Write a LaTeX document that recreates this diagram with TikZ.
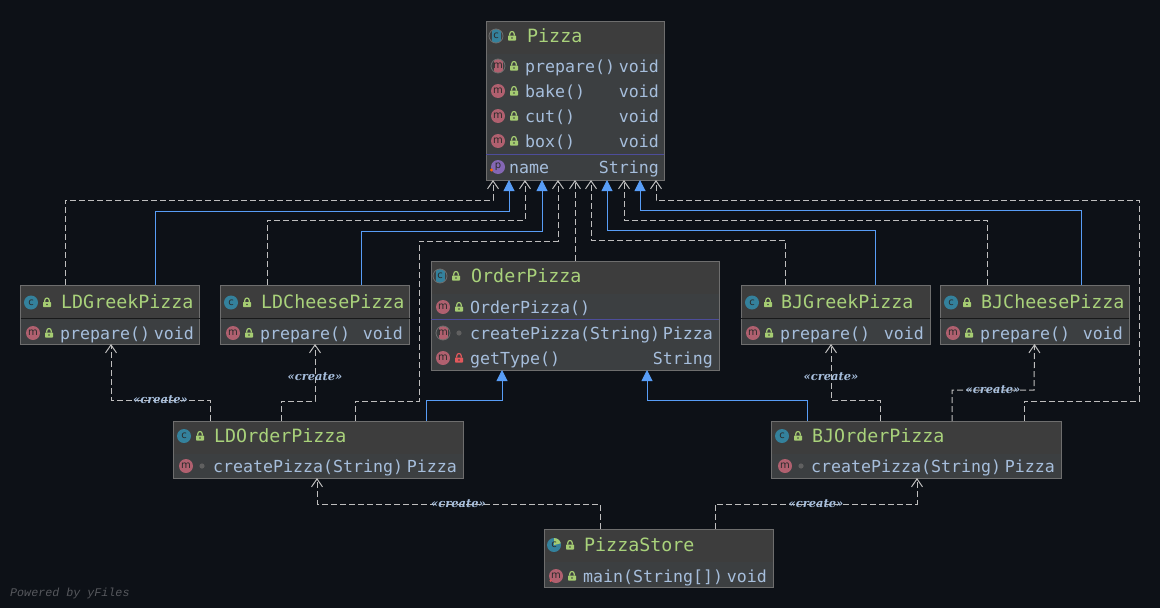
\documentclass[tikz,border=0pt]{standalone}
\usepackage{fontspec}
\usetikzlibrary{arrows.meta}
\newfontfamily\monofont{DejaVu Sans Mono}
\newfontfamily\iconfont{DejaVu Sans}
\newfontfamily\stereofont{DejaVu Serif}
\newfontfamily\footfont{Liberation Mono}

\definecolor{bgC}{HTML}{0D1117}
\definecolor{headC}{HTML}{3D3D3D}
\definecolor{bodyC}{HTML}{3C3F41}
\definecolor{edgeC}{HTML}{6E6E6E}
\definecolor{titleC}{HTML}{A9D27B}
\definecolor{memberC}{HTML}{A6BEDC}
\definecolor{dashC}{HTML}{BEBEBE}
\definecolor{blueC}{HTML}{589DF6}
\definecolor{classC}{HTML}{34819C}
\definecolor{methodC}{HTML}{B0606F}
\definecolor{propC}{HTML}{8467B4}
\definecolor{lockG}{HTML}{A5CC72}
\definecolor{lockR}{HTML}{E2585C}
\definecolor{glyphC}{HTML}{2B2B2B}

\tikzset{
    classbox/.style={draw=edgeC, fill=bodyC, line width=1pt, inner sep=0pt, outer sep=0pt,
        path picture={\fill[headC] (path picture bounding box.north west) rectangle
            ([yshift=-#1]path picture bounding box.north east);}},
    titletext/.style={text=titleC, anchor=base west, inner sep=0pt,
        font=\monofont\fontsize{18.3}{22}\selectfont},
    membertext/.style={text=memberC, anchor=base west, inner sep=0pt,
        font=\monofont\fontsize{16.6}{20}\selectfont},
    typetext/.style={membertext, anchor=base east},
    iconbase/.style={circle, minimum size=14pt, inner sep=0pt, text=glyphC,
        font=\iconfont\fontsize{10}{10}\selectfont},
    classicon/.style={iconbase, fill=classC},
    methodicon/.style={iconbase, fill=methodC},
    propicon/.style={iconbase, fill=propC},
    absclass/.style={iconbase, draw=edgeC, fill=bodyC, line width=0.8pt, path picture={
        \fill[classC] ([xshift=-4.5pt,yshift=8pt]path picture bounding box.center) rectangle ([xshift=4.5pt,yshift=-8pt]path picture bounding box.center);}},
    absmethod/.style={iconbase, draw=edgeC, fill=bodyC, line width=0.8pt, path picture={
        \fill[methodC] ([xshift=-4.5pt,yshift=8pt]path picture bounding box.center) rectangle ([xshift=4.5pt,yshift=-8pt]path picture bounding box.center);}},
    runclass/.style={iconbase, fill=classC, path picture={
        \fill[lockG] (path picture bounding box.center) -- ++(0pt,8pt) -- ++(8pt,0pt) -- ++(0pt,-6pt) -- cycle;}},
    depend/.style={draw=dashC, line width=1pt, dash pattern=on 6pt off 3pt,
        -{Straight Barb[length=8pt,width=11pt]}},
    inherit/.style={draw=blueC, line width=1pt, -{Triangle[length=11pt,width=11pt]}},
    createlabel/.style={text=memberC, inner sep=0pt,
        font=\stereofont\bfseries\itshape\fontsize{11.5}{14}\selectfont},
    publock/.pic={
        \fill[lockG, rounded corners=0.6pt] (-4,-0.5) rectangle (4,4.5);
        \draw[lockG, line width=1.2pt] (-2.2,-0.5) -- (-2.2,-2.2) .. controls (-2.2,-5.2) and (2.2,-5.2) .. (2.2,-2.2) -- (2.2,-0.5);
        \fill[headC] (0,2) circle (0.9);
    },
    prvlock/.pic={
        \fill[lockR, rounded corners=0.6pt] (-4,-0.5) rectangle (4,4.5);
        \draw[lockR, line width=1.2pt] (-2.2,-0.5) -- (-2.2,-2.2) .. controls (-2.2,-5.2) and (2.2,-5.2) .. (2.2,-2.2) -- (2.2,-0.5);
        \fill[headC] (0,2) circle (0.9);
    },
    pkgdot/.pic={\fill[edgeC!110] (0,0) circle (2.6);},
}

% 类名一行：编号、图标样式、图标x、y、文字x、文字
\newcommand{\classtitle}[6]{
    \node[#2] (#1Icon) at (#3,#4) {c};
    \pic at (#3+16,#4) {publock};
    \node[titletext] (#1Title) at (#5,#4+6) {#6};
}
% 成员一行：编号、图标样式、可见性、y、文字、类型（列位置由 \xIcon \xText \xType 给出）
\newcommand{\memberrow}[6]{
    \node[#2] (#1Icon) at (\xIcon,#4) {m};
    \pic at (\xIcon+16,#4) {#3};
    \node[membertext] (#1Text) at (\xText,#4+6) {#5};
    \node[typetext] (#1Type) at (\xType,#4+6) {#6};
}

\begin{document}
\begin{tikzpicture}[x=1pt, y=-1pt]
    % --- 背景 ---
    \useasboundingbox (0,0) rectangle (1160,608);
    \fill[bgC] (0,0) rectangle (1160,608);

    % --- 绘制类框 ---
    \node[classbox=33, minimum width=178, minimum height=159] (pizza) at (575,100.5) {};
    \node[classbox=33, minimum width=288, minimum height=109] (orderPizza) at (575,315.5) {};
    \node[classbox=33, minimum width=179, minimum height=59] (ldGreek) at (110,314.5) {};
    \node[classbox=33, minimum width=189, minimum height=59] (ldCheese) at (315,314.5) {};
    \node[classbox=33, minimum width=189, minimum height=59] (bjGreek) at (835.5,314.5) {};
    \node[classbox=33, minimum width=189, minimum height=59] (bjCheese) at (1034.5,314.5) {};
    \node[classbox=33, minimum width=290, minimum height=57] (ldOrder) at (318,449.5) {};
    \node[classbox=33, minimum width=290, minimum height=57] (bjOrder) at (916,449.5) {};
    \node[classbox=33, minimum width=229, minimum height=58] (pizzaStore) at (658.5,558) {};

    % --- 分隔线 ---
    \draw[blue!30!edgeC, line width=1pt] ([yshift=26pt]pizza.south west) -- ([yshift=26pt]pizza.south east);
    \draw[blue!30!edgeC, line width=1pt] ([yshift=51pt]orderPizza.south west) -- ([yshift=51pt]orderPizza.south east);
    \foreach \b in {ldGreek,ldCheese,bjGreek,bjCheese}
        \draw[black!60!bodyC, line width=1pt] ([yshift=26pt]\b.south west) -- ([yshift=26pt]\b.south east);

    % --- Pizza ---
    \classtitle{pizza}{absclass}{496}{36}{527}{Pizza}
    \def\xIcon{498}\def\xText{525}\def\xType{659}
    \memberrow{pizzaPrepare}{absmethod}{publock}{66}{prepare()}{void}
    \memberrow{pizzaBake}{methodicon}{publock}{91}{bake()}{void}
    \memberrow{pizzaCut}{methodicon}{publock}{116}{cut()}{void}
    \memberrow{pizzaBox}{methodicon}{publock}{141}{box()}{void}
    \node[propicon] (pizzaNameIcon) at (498,167) {p};
    \fill[orange!80!red] (491.5,170) circle (1.7);
    \node[membertext] (pizzaNameText) at (509,173) {name};
    \node[typetext] (pizzaNameType) at (659,173) {String};

    % --- OrderPizza ---
    \classtitle{order}{absclass}{440}{276}{471}{OrderPizza}
    \def\xIcon{443}\def\xText{470}\def\xType{713}
    \memberrow{orderCtor}{methodicon}{publock}{307}{OrderPizza()}{}
    \memberrow{orderCreate}{absmethod}{pkgdot}{333}{createPizza(String)}{Pizza}
    \memberrow{orderType}{methodicon}{prvlock}{358}{getType()}{String}

    % --- 四个具体 Pizza ---
    \classtitle{ldg}{classicon}{31}{302.5}{61}{LDGreekPizza}
    \def\xIcon{33}\def\xText{60}\def\xType{194}
    \memberrow{ldgPrepare}{methodicon}{publock}{333}{prepare()}{void}
    \classtitle{ldc}{classicon}{231}{302.5}{261}{LDCheesePizza}
    \def\xIcon{233}\def\xText{260}\def\xType{403}
    \memberrow{ldcPrepare}{methodicon}{publock}{333}{prepare()}{void}
    \classtitle{bjg}{classicon}{752}{302.5}{781}{BJGreekPizza}
    \def\xIcon{753}\def\xText{780}\def\xType{924}
    \memberrow{bjgPrepare}{methodicon}{publock}{333}{prepare()}{void}
    \classtitle{bjc}{classicon}{951}{302.5}{981}{BJCheesePizza}
    \def\xIcon{953}\def\xText{980}\def\xType{1123}
    \memberrow{bjcPrepare}{methodicon}{publock}{333}{prepare()}{void}

    % --- 两个工厂 ---
    \classtitle{ldo}{classicon}{184}{436}{214}{LDOrderPizza}
    \def\xIcon{186}\def\xText{213}\def\xType{457}
    \memberrow{ldoCreate}{methodicon}{pkgdot}{466}{createPizza(String)}{Pizza}
    \classtitle{bjo}{classicon}{782}{436}{812}{BJOrderPizza}
    \def\xIcon{785}\def\xText{811}\def\xType{1055}
    \memberrow{bjoCreate}{methodicon}{pkgdot}{466}{createPizza(String)}{Pizza}

    % --- PizzaStore ---
    \classtitle{store}{runclass}{554}{545}{584}{PizzaStore}
    \def\xIcon{556}\def\xText{583}\def\xType{767}
    \memberrow{storeMain}{methodicon}{publock}{576}{main(String[])}{void}
    \fill[lockR] (550.7,580.7) circle (1.3);

    % --- 指向 Pizza 的连线 ---
    \draw[depend] ([xshift=-45pt]ldGreek.north) -- ++(0,-85) -| ([xshift=-82pt]pizza.south);
    \draw[inherit] ([xshift=45pt]ldGreek.north) -- ++(0,-74) -| ([xshift=-66pt]pizza.south);
    \draw[depend] ([xshift=-48pt]ldCheese.north) -- ++(0,-65) -| ([xshift=-50pt]pizza.south);
    \draw[inherit] ([xshift=46pt]ldCheese.north) -- ++(0,-54) -| ([xshift=-33pt]pizza.south);
    \draw[depend] ([xshift=37pt]ldOrder.north) -- ++(0,-20) -- ++(64,0) -- ++(0,-160) -| ([xshift=-17pt]pizza.south);
    \draw[depend] (orderPizza.north) -- (pizza.south);
    \draw[depend] ([xshift=-50.5pt]bjGreek.north) -- ++(0,-45) -| ([xshift=16pt]pizza.south);
    \draw[inherit] ([xshift=39.5pt]bjGreek.north) -- ++(0,-55) -| ([xshift=32pt]pizza.south);
    \draw[depend] ([xshift=-47.5pt]bjCheese.north) -- ++(0,-65) -| ([xshift=49pt]pizza.south);
    \draw[inherit] ([xshift=46.5pt]bjCheese.north) -- ++(0,-75) -| ([xshift=65pt]pizza.south);
    \draw[depend] ([xshift=108pt]bjOrder.north) -- ++(0,-20) -- ++(115,0) -- ++(0,-201) -| ([xshift=81pt]pizza.south);

    % --- 继承 OrderPizza ---
    \draw[inherit] ([xshift=108pt]ldOrder.north) -- ++(0,-21) -| ([xshift=-73pt]orderPizza.south);
    \draw[inherit] ([xshift=-109pt]bjOrder.north) -- ++(0,-21) -| ([xshift=72pt]orderPizza.south);

    % --- create 连线 ---
    \draw[depend] ([xshift=-108pt]ldOrder.north) -- ++(0,-21) -- node[createlabel] (createA) {«create»} ++(-99,0) -- ([xshift=1pt]ldGreek.south);
    \draw[depend] ([xshift=-37pt]ldOrder.north) -- ++(0,-20) -- ++(34,0) -- node[createlabel, pos=0.42] (createB) {«create»} (ldCheese.south);
    \draw[depend] ([xshift=-36pt]bjOrder.north) -- ++(0,-21) -- ++(-49,0) -- node[createlabel, pos=0.42] (createC) {«create»} ([xshift=-4.5pt]bjGreek.south);
    \draw[depend] ([xshift=36pt]bjOrder.north) -- ++(0,-31) -- node[createlabel] (createD) {«create»} ++(82,0) -- (bjCheese.south);
    \draw[depend] ([xshift=-58.5pt]pizzaStore.north) -- ++(0,-25) -- node[createlabel] (createE) {«create»} ++(-283,0) -- ([xshift=-1pt]ldOrder.south);
    \draw[depend] ([xshift=56.5pt]pizzaStore.north) -- ++(0,-25) -- node[createlabel] (createF) {«create»} ++(202,0) -- ([xshift=1pt]bjOrder.south);

    % --- 水印 ---
    \node[text=white!30!bgC, anchor=base west, inner sep=0pt, font=\footfont\itshape\fontsize{11.7}{14}\selectfont] (powered) at (10,596) {Powered by yFiles};
\end{tikzpicture}
\end{document}
